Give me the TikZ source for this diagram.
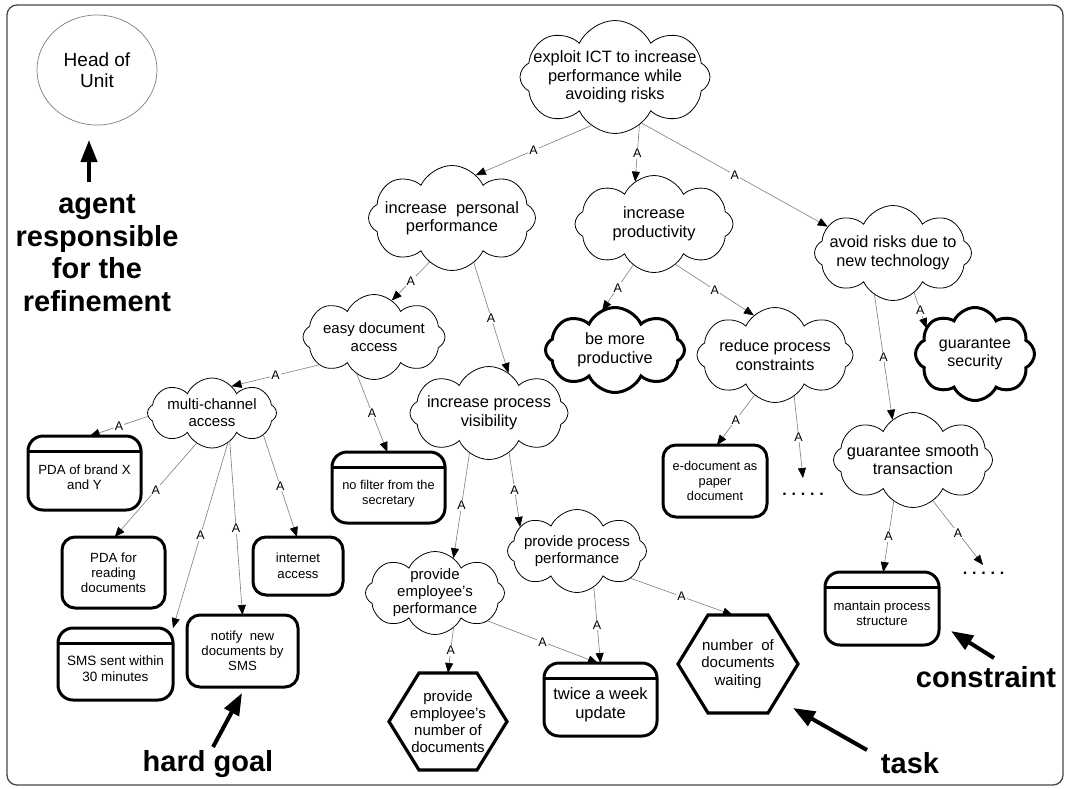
\documentclass[tikz,border=0pt]{standalone}
\usepackage{fontspec}
\setmainfont{Liberation Sans}
\usetikzlibrary{shapes.symbols,shapes.geometric,arrows.meta}
\definecolor{linkgray}{RGB}{125,125,125}
\definecolor{framegray}{RGB}{70,70,70}
\newcommand\fs[2]{\fontsize{#1}{#2}\selectfont}
\newcommand\lowtxt[1]{\raisebox{-6pt}[\height][\depth]{\begin{tabular}{@{}c@{}}#1\end{tabular}}}
\newcommand\hexout[1]{\draw[line width=3.2pt, line join=miter] (#1.west) -- ([xshift=30pt]#1.north west) -- ([xshift=-30pt]#1.north east) -- (#1.east) -- ([xshift=-30pt]#1.south east) -- ([xshift=30pt]#1.south west) -- cycle;}
\newcommand\band[1]{\draw[line width=3pt] ([yshift=-15pt]#1.north west) -- ([yshift=-15pt]#1.north east);}
\newcommand\dotrow{.\hspace{4.8pt}.\hspace{4.8pt}.\hspace{4.8pt}.\hspace{4.8pt}.}
\begin{document}
\begin{tikzpicture}[x=1pt,y=-1pt,
  goal/.style={cloud, draw, cloud puffs=8, cloud puff arc=130, shape border rotate=22.5, cloud ignores aspect, inner xsep=-30pt, inner ysep=-10pt, outer sep=0pt, align=center, line width=0.8pt},
  sgoal/.style={goal, line width=3pt},
  hgoal/.style={rectangle, draw, rounded corners=13pt, line width=3pt, inner sep=0pt, outer sep=0pt, align=center},
  cons/.style={rectangle, draw, rounded corners=15pt, line width=3pt, inner sep=0pt, outer sep=0pt},
  hexa/.style={rectangle, inner sep=0pt, outer sep=0pt, align=center},
  link/.style={draw=linkgray, line width=0.6pt, -{Triangle[length=10pt,width=8pt,color=black]}},
  alab/.style={fill=white, inner sep=1pt, font=\fs{12.5}{12.5}, text=black},
  bigarrow/.style={line width=4pt, -{Triangle[length=22pt,width=16pt]}},
  bold29/.style={font=\fs{29}{32.5}\bfseries, align=center},
  dotsl/.style={font=\fs{16}{16}\bfseries, inner sep=0pt}
]
\useasboundingbox (0,0) rectangle (1068,788);
\draw[line width=1.3pt, draw=framegray, rounded corners=10pt] (7,5) rectangle (1063,785);

% agent
\node[ellipse, draw=linkgray, line width=0.7pt, minimum width=120pt, minimum height=110pt, align=center, font=\fs{19}{21}] (head) at (97,70) {Head of\\Unit};

% clouds (soft goals)
\node[goal, minimum width=190pt, minimum height=113pt, font=\fs{16.4}{18.5}] (top) at (615,77) {exploit ICT to increase\\performance while\\avoiding risks};
\node[goal, minimum width=167pt, minimum height=105pt, font=\fs{16.4}{18}] (ipp) at (452,218) {increase\ \ personal\\performance};
\node[goal, minimum width=158pt, minimum height=97pt, font=\fs{16.4}{19.5}] (iprod) at (654,224) {increase\\productivity};
\node[goal, minimum width=157pt, minimum height=95pt, font=\fs{16.3}{19}] (avoid) at (893,253) {avoid risks due to\\new technology};
\node[goal, minimum width=142pt, minimum height=85pt, font=\fs{15}{18}] (easy) at (374,337) {easy document\\access};
\node[sgoal, minimum width=139pt, minimum height=85pt, font=\fs{16.3}{19}] (bemore) at (615,350) {be more\\productive};
\node[goal, minimum width=156pt, minimum height=95pt, font=\fs{16.3}{18.5}] (reduce) at (775,355) {reduce process\\constraints};
\node[sgoal, minimum width=119pt, minimum height=93pt, font=\fs{16}{18}] (gsec) at (975,354) {guarantee\\security};
\node[goal, minimum width=129pt, minimum height=70pt, font=\fs{15}{17}] (multi) at (212,413) {multi-channel\\access};
\node[goal, minimum width=158pt, minimum height=93pt, font=\fs{16.4}{19}] (ipv) at (489,413) {increase process\\visibility};
\node[goal, minimum width=159pt, minimum height=95pt, font=\fs{16.4}{18}] (gsmooth) at (913,460) {guarantee smooth\\transaction};
\node[goal, minimum width=139pt, minimum height=83pt, font=\fs{15}{17}] (ppp) at (577,551) {provide process\\performance};
\node[goal, minimum width=139pt, minimum height=83pt, font=\fs{15}{17}] (pep) at (435,593) {provide\\employee's\\performance};

% hard goals
\node[hgoal, minimum width=103pt, minimum height=71pt, font=\fs{13.3}{15}] (pdar) at (113.5,572.5) {PDA for\\reading\\documents};
\node[hgoal, minimum width=111pt, minimum height=72pt, font=\fs{13.2}{15}] (notify) at (242.5,651) {notify\ \ new\\documents by\\SMS};
\node[hgoal, minimum width=90pt, minimum height=58pt, font=\fs{13.2}{15.5}] (internet) at (298,566) {internet\\access};
\node[hgoal, minimum width=104pt, minimum height=72pt, font=\fs{12.8}{15}] (edoc) at (715,481) {e-document as\\paper\\document};

% constraints
\node[cons, minimum width=113pt, minimum height=74pt, font=\fs{13.3}{14.5}] (pdaxy) at (84.5,473) {\lowtxt{PDA of brand X\\and Y}};
\node[cons, minimum width=115pt, minimum height=72pt, font=\fs{13.5}{16}] (sms) at (115.5,664) {\lowtxt{SMS sent within\\30 minutes}};
\node[cons, minimum width=113pt, minimum height=71pt, font=\fs{12.8}{15}] (nofilter) at (388.5,487.5) {\lowtxt{no filter from the\\secretary}};
\node[cons, minimum width=113pt, minimum height=73pt, font=\fs{16.5}{19}] (twice) at (600.5,699.5) {\lowtxt{twice a week\\update}};
\node[cons, minimum width=114pt, minimum height=73pt, font=\fs{13.2}{15}] (mantain) at (882,608.5) {\lowtxt{mantain process\\structure}};
\foreach \n in {pdaxy,sms,nofilter,twice,mantain} {\band{\n}}

% tasks
\node[hexa, minimum width=118pt, minimum height=97pt, font=\fs{15}{17}] (pen) at (448,721.5) {provide\\employee's\\number of\\documents};
\node[hexa, minimum width=120pt, minimum height=98pt, font=\fs{15}{17.5}] (ndw) at (738,664) {number\ \ of\\documents\\waiting};
\hexout{pen}
\hexout{ndw}

% continuation dots
\node[dotsl] (dots1) at (803,494) {\dotrow};
\node[dotsl] (dots2) at (983.5,573) {\dotrow};
\coordinate (d1) at (803,478);
\coordinate (d2) at (983,565);

% AND refinement links
\draw[link] (top.244) -- node[alab]{A} (ipp.61);
\draw[link] (top.297) -- node[alab]{A} (iprod.114);
\draw[link] (top.300) -- node[alab]{A} (avoid.158);
\draw[link] (ipp.243) -- node[alab]{A} (easy.64);
\draw[link] (ipp.296) -- node[alab]{A} (ipv.64);
\draw[link] (iprod.243) -- node[alab]{A} (bemore.108);
\draw[link] (iprod.298) -- node[alab]{A} (reduce.118);
\draw[link] (avoid.298) -- node[alab]{A} (gsec.152);
\draw[link] (avoid.246) -- node[alab]{A} (gsmooth.117);
\draw[link] (easy.207) -- node[alab]{A} (multi.54);
\draw[link] (easy.245) -- node[alab]{A} (nofilter.92);
\draw[link] (multi.183) -- node[alab]{A} (pdaxy.82);
\draw[link] (multi.243) -- node[alab]{A} (pdar.88);
\draw[link] (multi.298) -- node[alab]{A} (sms.32);
\draw[link] (multi.302) -- node[alab]{A} (notify.90);
\draw[link] (multi.337) -- node[alab]{A} (internet.92);
\draw[link] (ipv.244) -- node[alab]{A} (pep.62);
\draw[link] (ipv.297) -- node[alab]{A} (ppp.157);
\draw[link] (pep.298) -- node[alab]{A} (pen.90);
\draw[link] (pep.332) -- node[alab]{A} (twice.94);
\draw[link] (ppp.295) -- node[alab]{A} (twice.90);
\draw[link] (ppp.333) -- node[alab]{A} (ndw.96);
\draw[link] (reduce.243) -- node[alab]{A} (edoc.87);
\draw[link] (reduce.295) -- node[alab]{A} (d1);
\draw[link] (gsmooth.245) -- node[alab]{A} (mantain.88);
\draw[link] (gsmooth.296) -- node[alab]{A} (d2);

% annotations
\node[bold29] (agent) at (97,253) {agent\\responsible\\for the\\refinement};
\node[bold29, anchor=base] (hardlbl) at (208,771) {hard goal};
\node[bold29, anchor=base] (tasklbl) at (910,773) {task};
\node[bold29, anchor=base] (conslbl) at (986,687) {constraint};
\coordinate (agtail) at (89,182);
\coordinate (agtip) at (89,140);
\coordinate (hgtail) at (213,747);
\coordinate (hgtip) at (242,693);
\coordinate (tktail) at (867,750);
\coordinate (tktip) at (793,708);
\coordinate (cstail) at (994,658);
\coordinate (cstip) at (951,631);
\draw[bigarrow] (agtail) -- (agtip);
\draw[bigarrow] (hgtail) -- (hgtip);
\draw[bigarrow] (tktail) -- (tktip);
\draw[bigarrow] (cstail) -- (cstip);
\end{tikzpicture}
\end{document}
